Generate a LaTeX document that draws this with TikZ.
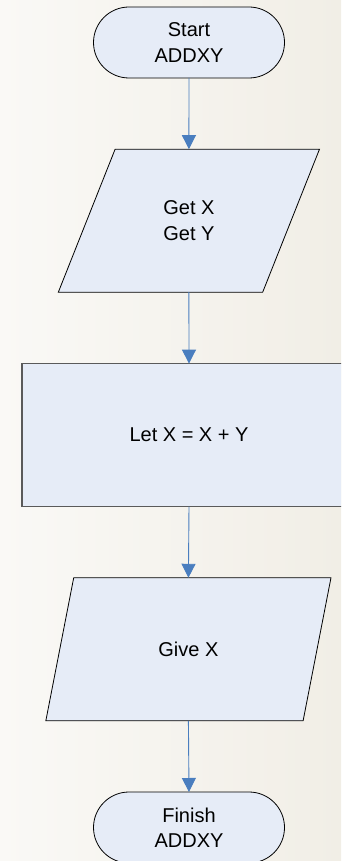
\documentclass[tikz,border=0pt]{standalone}
\usepackage{fontspec}
\setmainfont{Liberation Sans}
\usetikzlibrary{shapes.geometric,arrows.meta}

\definecolor{paperL}{HTML}{FAF9F6}
\definecolor{paperR}{HTML}{F1EEE6}
\definecolor{boxfill}{HTML}{E6ECF7}
\definecolor{flowblue}{HTML}{4A7EBF}
\definecolor{procedge}{HTML}{5A5A5A}

\tikzset{
  chartbox/.style={fill=boxfill, outer sep=0pt, inner sep=0pt, align=center,
    font=\fontsize{20}{25.5}\selectfont, text=black},
  terminal/.style={chartbox, draw=black, line width=0.8pt,
    minimum width=191pt, minimum height=71pt, rounded corners=35.5pt},
  iobox/.style={chartbox, draw=black, line width=0.8pt, trapezium,
    trapezium stretches=true, trapezium left angle=63.6, trapezium right angle=116.4,
    minimum height=143pt},
  procbox/.style={chartbox, draw=procedge, line width=1.2pt,
    minimum width=334pt, minimum height=143pt},
  flow/.style={draw=flowblue, line width=0.9pt,
    -{Triangle[length=14pt,width=14pt]}}
}

\begin{document}
\begin{tikzpicture}[x=1pt,y=-1pt]
  \useasboundingbox (0,0) rectangle (341,861);
  \clip (0,0) rectangle (341,861);
  \shade[left color=paperL, right color=paperR] (0,0) rectangle (341,861);

  % flowchart steps, top to bottom
  \node[terminal] (start) at (189,42.5) {Start\\ADDXY};
  \node[iobox, minimum width=262.3pt] (input) at (188.9,220.7) {Get X\\Get Y};
  \node[procbox] (calc) at (189,435.1) {Let X = X + Y};
  \node[iobox, minimum width=285.3pt] (output) at (188.4,649.3) {Give X};
  \node[terminal] (finish) at (189,827.5) {Finish\\ADDXY};

  % connectors
  \draw[flow] (start.south) -- (input.north);
  \draw[flow] (input.south) -- (calc.north);
  \draw[flow] (calc.south) -- (output.north);
  \draw[flow] (output.south) -- (finish.north);
\end{tikzpicture}
\end{document}
